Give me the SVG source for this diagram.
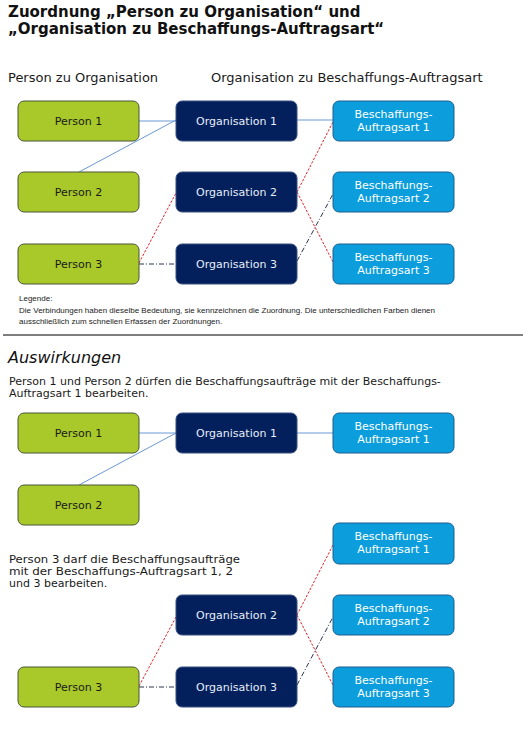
<svg xmlns="http://www.w3.org/2000/svg" width="532" height="735" viewBox="0 0 532 735">
<style>
.bg{fill:#ffffff}
.p rect{fill:#a8c929;stroke:#4a5638;stroke-width:1}
.o rect{fill:#03205c;stroke:#3a5080;stroke-width:1}
.b rect{fill:#0b9ddc;stroke:#1d5e8e;stroke-width:1}
.lbl{font-family:"DejaVu Sans",Verdana,sans-serif;font-size:11px;text-anchor:middle}
.p text{fill:#1a1a1a}
.o text{fill:#e8eef8}
.b text{fill:#ffffff}
.title{font-family:"DejaVu Sans",Verdana,sans-serif;font-weight:bold;font-size:15px;fill:#111}
.hd{font-family:"DejaVu Sans",Verdana,sans-serif;font-size:13px;fill:#1a1a1a}
.para{font-family:"DejaVu Sans",Verdana,sans-serif;font-size:11px;fill:#1a1a1a}
.leg{font-family:"Liberation Sans",Arial,sans-serif;font-size:8px;fill:#222}
.blue{stroke:#6a98d4;stroke-width:1;fill:none}
.red{stroke:#e3262b;stroke-width:1;stroke-dasharray:2.5 1.5;fill:none}
.dd{stroke:#2c3550;stroke-width:1;stroke-dasharray:5 2 1 2;fill:none}
</style>
<rect class="bg" x="0" y="0" width="532" height="735"/>
<g id="titles">
<text class="title" x="8" y="17">Zuordnung „Person zu Organisation“ und</text>
<text class="title" x="8" y="34">„Organisation zu Beschaffungs-Auftragsart“</text>
<text class="hd" x="8" y="82">Person zu Organisation</text>
<text class="hd" x="211" y="82">Organisation zu Beschaffungs-Auftragsart</text>
</g>
<g id="connectors">
<line class="blue" x1="139" y1="121" x2="176" y2="121"/>
<line class="blue" x1="79" y1="172" x2="176" y2="120"/>
<line class="blue" x1="297" y1="120" x2="333" y2="120"/>
<line class="red" x1="139" y1="263" x2="176" y2="193"/>
<line class="red" x1="297" y1="192" x2="333" y2="122"/>
<line class="red" x1="297" y1="192" x2="333" y2="262"/>
<line class="dd" x1="139" y1="264" x2="176" y2="264"/>
<line class="dd" x1="297" y1="261" x2="333" y2="194"/>
<line class="blue" x1="139" y1="433" x2="176" y2="433"/>
<line class="blue" x1="79" y1="485" x2="176" y2="433"/>
<line class="blue" x1="297" y1="433" x2="333" y2="433"/>
<line class="red" x1="139" y1="686" x2="176" y2="617"/>
<line class="red" x1="297" y1="615" x2="333" y2="545"/>
<line class="red" x1="297" y1="615" x2="333" y2="685"/>
<line class="dd" x1="139" y1="687" x2="176" y2="687"/>
<line class="dd" x1="297" y1="685" x2="333" y2="617"/>
</g>
<g id="person1" class="p"><rect x="18" y="101" width="121" height="40" rx="6"/><text class="lbl" x="78.5" y="125">Person 1</text></g>
<g id="person2" class="p"><rect x="18" y="172" width="121" height="40" rx="6"/><text class="lbl" x="78.5" y="196">Person 2</text></g>
<g id="person3" class="p"><rect x="18" y="244" width="121" height="40" rx="6"/><text class="lbl" x="78.5" y="268">Person 3</text></g>
<g id="org1" class="o"><rect x="176" y="101" width="121" height="40" rx="6"/><text class="lbl" x="236.5" y="125">Organisation 1</text></g>
<g id="org2" class="o"><rect x="176" y="172" width="121" height="40" rx="6"/><text class="lbl" x="236.5" y="196">Organisation 2</text></g>
<g id="org3" class="o"><rect x="176" y="244" width="121" height="40" rx="6"/><text class="lbl" x="236.5" y="268">Organisation 3</text></g>
<g id="ba1" class="b"><rect x="333" y="101" width="121" height="40" rx="6"/><text class="lbl" x="393.5" y="118">Beschaffungs-</text><text class="lbl" x="393.5" y="131">Auftragsart 1</text></g>
<g id="ba2" class="b"><rect x="333" y="172" width="121" height="40" rx="6"/><text class="lbl" x="393.5" y="189">Beschaffungs-</text><text class="lbl" x="393.5" y="202">Auftragsart 2</text></g>
<g id="ba3" class="b"><rect x="333" y="244" width="121" height="40" rx="6"/><text class="lbl" x="393.5" y="261">Beschaffungs-</text><text class="lbl" x="393.5" y="274">Auftragsart 3</text></g>
<g id="legend">
<text class="leg" x="19" y="301">Legende:</text>
<text class="leg" x="19" y="313" textLength="416" lengthAdjust="spacingAndGlyphs">Die Verbindungen haben dieselbe Bedeutung, sie kennzeichnen die Zuordnung. Die unterschiedlichen Farben dienen</text>
<text class="leg" x="19" y="324">ausschließlich zum schnellen Erfassen der Zuordnungen.</text>
<line x1="3" y1="335" x2="523" y2="335" stroke="#555" stroke-width="1.5"/>
</g>
<g id="effects">
<text x="8" y="363" font-family="DejaVu Sans,Verdana,sans-serif" font-style="italic" font-size="16" fill="#111">Auswirkungen</text>
<text class="para" x="9" y="385">Person 1 und Person 2 dürfen die Beschaffungsaufträge mit der Beschaffungs-</text>
<text class="para" x="9" y="397">Auftragsart 1 bearbeiten.</text>
<text class="para" x="9" y="563" textLength="231" lengthAdjust="spacingAndGlyphs">Person 3 darf die Beschaffungsaufträge</text>
<text class="para" x="9" y="575" textLength="224" lengthAdjust="spacingAndGlyphs">mit der Beschaffungs-Auftragsart 1, 2</text>
<text class="para" x="9" y="587">und 3 bearbeiten.</text>
</g>
<g id="b-person1" class="p"><rect x="18" y="413" width="121" height="40" rx="6"/><text class="lbl" x="78.5" y="437">Person 1</text></g>
<g id="b-person2" class="p"><rect x="18" y="485" width="121" height="40" rx="6"/><text class="lbl" x="78.5" y="509">Person 2</text></g>
<g id="b-person3" class="p"><rect x="18" y="667" width="121" height="40" rx="6"/><text class="lbl" x="78.5" y="691">Person 3</text></g>
<g id="b-org1" class="o"><rect x="176" y="413" width="121" height="40" rx="6"/><text class="lbl" x="236.5" y="437">Organisation 1</text></g>
<g id="b-org2" class="o"><rect x="176" y="595" width="121" height="40" rx="6"/><text class="lbl" x="236.5" y="619">Organisation 2</text></g>
<g id="b-org3" class="o"><rect x="176" y="667" width="121" height="40" rx="6"/><text class="lbl" x="236.5" y="691">Organisation 3</text></g>
<g id="b-ba1a" class="b"><rect x="333" y="413" width="121" height="40" rx="6"/><text class="lbl" x="393.5" y="430">Beschaffungs-</text><text class="lbl" x="393.5" y="443">Auftragsart 1</text></g>
<g id="b-ba1b" class="b"><rect x="333" y="523" width="121" height="41" rx="6"/><text class="lbl" x="393.5" y="540">Beschaffungs-</text><text class="lbl" x="393.5" y="553">Auftragsart 1</text></g>
<g id="b-ba2" class="b"><rect x="333" y="595" width="121" height="40" rx="6"/><text class="lbl" x="393.5" y="612">Beschaffungs-</text><text class="lbl" x="393.5" y="625">Auftragsart 2</text></g>
<g id="b-ba3" class="b"><rect x="333" y="667" width="121" height="40" rx="6"/><text class="lbl" x="393.5" y="684">Beschaffungs-</text><text class="lbl" x="393.5" y="697">Auftragsart 3</text></g>
</svg>
